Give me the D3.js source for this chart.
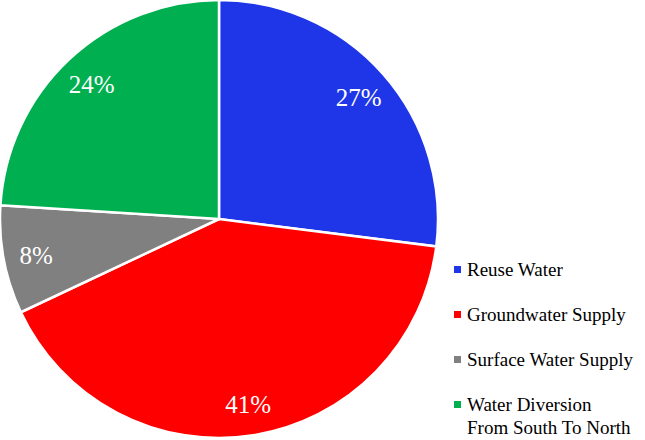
<!DOCTYPE html>
<html>
<head>
<meta charset="utf-8">
<script src="https://cdn.jsdelivr.net/npm/d3@7"></script>
<style>
body{margin:0;background:#fff;}
</style>
</head>
<body>
<svg id="chart" width="645" height="440"></svg>
<script>
var categories = ["Reuse Water", "Groundwater Supply", "Surface Water Supply", "Water Diversion|From South To North"];
var values = [27, 41, 8, 24];
var colors = ["#1f36e8", "#ff0000", "#808080", "#00b050"];
var fontFamily = "'Liberation Serif', 'DejaVu Serif', serif";

var svg = d3.select("svg#chart");
var cx = 219, cy = 219, R = 219;

var pie = d3.pie().sort(null).value(function(d){return d;});
var arc = d3.arc().innerRadius(0).outerRadius(R);
var labelArc = d3.arc().innerRadius(R*0.85).outerRadius(R*0.85);

var g = svg.append("g").attr("transform", "translate(" + cx + "," + cy + ")");
var arcs = pie(values);

g.selectAll("path")
    .data(arcs)
    .enter()
    .append("path")
    .attr("d", arc)
    .attr("fill", function(d, i){return colors[i];})
    .attr("stroke", "#fff")
    .attr("stroke-width", 2.5);

g.selectAll("text")
    .data(arcs)
    .enter()
    .append("text")
    .attr("transform", function(d){return "translate(" + labelArc.centroid(d) + ")";})
    .attr("text-anchor", "middle")
    .attr("dy", "0.4em")
    .attr("fill", "#fff")
    .style("font-family", fontFamily)
    .style("font-size", "25px")
    .text(function(d){return d.value + "%";});

// legend
var legend = svg.append("g").attr("transform", "translate(454,269)");
var items = legend.selectAll("g")
    .data(categories)
    .enter()
    .append("g")
    .attr("transform", function(d, i){return "translate(0," + (i * 45) + ")";});

items.append("rect")
    .attr("x", 0)
    .attr("y", -3)
    .attr("width", 7)
    .attr("height", 7)
    .attr("fill", function(d, i){return colors[i];});

items.append("text")
    .attr("x", 13)
    .attr("y", 0)
    .attr("fill", "#000")
    .style("font-family", fontFamily)
    .style("font-size", "19px")
    .each(function(d){
        var t = d3.select(this);
        d.split("|").forEach(function(line, j){
            t.append("tspan").attr("x", 13).attr("dy", j == 0 ? "0.35em" : "1.25em").text(line);
        });
    });
</script>
</body>
</html>
